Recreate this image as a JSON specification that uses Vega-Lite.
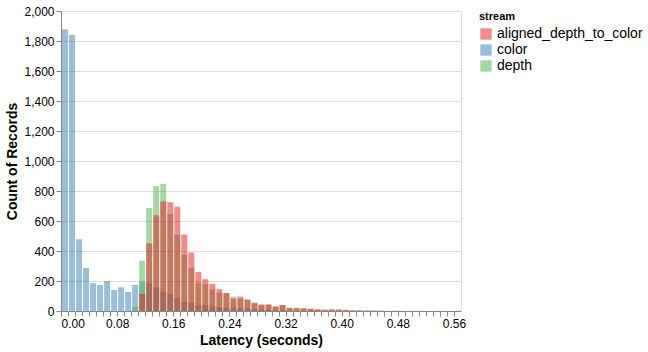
{
  "$schema": "https://vega.github.io/schema/vega-lite/v6.json",
  "width": 400,
  "height": 300,
  "config": {
    "font": "Liberation Sans",
    "axis": {"labelFontSize": 12, "titleFontSize": 14},
    "legend": {"labelFontSize": 14, "titleFontSize": 11, "symbolSize": 130}
  },
  "datasets": {
    "hist": [
      {"stream": "color", "bin_start": 0.00, "bin_end": 0.01, "count": 1878},
      {"stream": "color", "bin_start": 0.01, "bin_end": 0.02, "count": 1840},
      {"stream": "color", "bin_start": 0.02, "bin_end": 0.03, "count": 478},
      {"stream": "color", "bin_start": 0.03, "bin_end": 0.04, "count": 287},
      {"stream": "color", "bin_start": 0.04, "bin_end": 0.05, "count": 185},
      {"stream": "color", "bin_start": 0.05, "bin_end": 0.06, "count": 173},
      {"stream": "color", "bin_start": 0.06, "bin_end": 0.07, "count": 200},
      {"stream": "color", "bin_start": 0.07, "bin_end": 0.08, "count": 140},
      {"stream": "color", "bin_start": 0.08, "bin_end": 0.09, "count": 158},
      {"stream": "color", "bin_start": 0.09, "bin_end": 0.10, "count": 127},
      {"stream": "color", "bin_start": 0.10, "bin_end": 0.11, "count": 173},
      {"stream": "color", "bin_start": 0.11, "bin_end": 0.12, "count": 195},
      {"stream": "color", "bin_start": 0.12, "bin_end": 0.13, "count": 185},
      {"stream": "color", "bin_start": 0.13, "bin_end": 0.14, "count": 157},
      {"stream": "color", "bin_start": 0.14, "bin_end": 0.15, "count": 127},
      {"stream": "color", "bin_start": 0.15, "bin_end": 0.16, "count": 113},
      {"stream": "color", "bin_start": 0.16, "bin_end": 0.17, "count": 88},
      {"stream": "color", "bin_start": 0.17, "bin_end": 0.18, "count": 62},
      {"stream": "color", "bin_start": 0.18, "bin_end": 0.19, "count": 55},
      {"stream": "color", "bin_start": 0.19, "bin_end": 0.20, "count": 37},
      {"stream": "color", "bin_start": 0.20, "bin_end": 0.21, "count": 41},
      {"stream": "color", "bin_start": 0.21, "bin_end": 0.22, "count": 33},
      {"stream": "color", "bin_start": 0.22, "bin_end": 0.23, "count": 26},
      {"stream": "color", "bin_start": 0.23, "bin_end": 0.24, "count": 21},
      {"stream": "color", "bin_start": 0.24, "bin_end": 0.25, "count": 21},
      {"stream": "color", "bin_start": 0.25, "bin_end": 0.26, "count": 18},
      {"stream": "color", "bin_start": 0.26, "bin_end": 0.27, "count": 17},
      {"stream": "color", "bin_start": 0.27, "bin_end": 0.28, "count": 13},
      {"stream": "color", "bin_start": 0.28, "bin_end": 0.29, "count": 9},
      {"stream": "color", "bin_start": 0.29, "bin_end": 0.30, "count": 8},
      {"stream": "color", "bin_start": 0.30, "bin_end": 0.31, "count": 6},
      {"stream": "color", "bin_start": 0.31, "bin_end": 0.32, "count": 5},
      {"stream": "color", "bin_start": 0.32, "bin_end": 0.33, "count": 4},
      {"stream": "color", "bin_start": 0.33, "bin_end": 0.34, "count": 3},
      {"stream": "color", "bin_start": 0.34, "bin_end": 0.35, "count": 2},
      {"stream": "color", "bin_start": 0.35, "bin_end": 0.36, "count": 2},
      {"stream": "color", "bin_start": 0.36, "bin_end": 0.37, "count": 1},
      {"stream": "color", "bin_start": 0.37, "bin_end": 0.38, "count": 1},
      {"stream": "depth", "bin_start": 0.10, "bin_end": 0.11, "count": 29},
      {"stream": "depth", "bin_start": 0.11, "bin_end": 0.12, "count": 335},
      {"stream": "depth", "bin_start": 0.12, "bin_end": 0.13, "count": 687},
      {"stream": "depth", "bin_start": 0.13, "bin_end": 0.14, "count": 833},
      {"stream": "depth", "bin_start": 0.14, "bin_end": 0.15, "count": 847},
      {"stream": "depth", "bin_start": 0.15, "bin_end": 0.16, "count": 647},
      {"stream": "depth", "bin_start": 0.16, "bin_end": 0.17, "count": 507},
      {"stream": "depth", "bin_start": 0.17, "bin_end": 0.18, "count": 376},
      {"stream": "depth", "bin_start": 0.18, "bin_end": 0.19, "count": 289},
      {"stream": "depth", "bin_start": 0.19, "bin_end": 0.20, "count": 189},
      {"stream": "depth", "bin_start": 0.20, "bin_end": 0.21, "count": 180},
      {"stream": "depth", "bin_start": 0.21, "bin_end": 0.22, "count": 145},
      {"stream": "depth", "bin_start": 0.22, "bin_end": 0.23, "count": 123},
      {"stream": "depth", "bin_start": 0.23, "bin_end": 0.24, "count": 117},
      {"stream": "depth", "bin_start": 0.24, "bin_end": 0.25, "count": 96},
      {"stream": "depth", "bin_start": 0.25, "bin_end": 0.26, "count": 82},
      {"stream": "depth", "bin_start": 0.26, "bin_end": 0.27, "count": 78},
      {"stream": "depth", "bin_start": 0.27, "bin_end": 0.28, "count": 51},
      {"stream": "depth", "bin_start": 0.28, "bin_end": 0.29, "count": 40},
      {"stream": "depth", "bin_start": 0.29, "bin_end": 0.30, "count": 42},
      {"stream": "depth", "bin_start": 0.30, "bin_end": 0.31, "count": 27},
      {"stream": "depth", "bin_start": 0.31, "bin_end": 0.32, "count": 38},
      {"stream": "depth", "bin_start": 0.32, "bin_end": 0.33, "count": 18},
      {"stream": "depth", "bin_start": 0.33, "bin_end": 0.34, "count": 22},
      {"stream": "depth", "bin_start": 0.34, "bin_end": 0.35, "count": 20},
      {"stream": "depth", "bin_start": 0.35, "bin_end": 0.36, "count": 13},
      {"stream": "depth", "bin_start": 0.36, "bin_end": 0.37, "count": 9},
      {"stream": "depth", "bin_start": 0.37, "bin_end": 0.38, "count": 7},
      {"stream": "depth", "bin_start": 0.38, "bin_end": 0.39, "count": 9},
      {"stream": "depth", "bin_start": 0.39, "bin_end": 0.40, "count": 9},
      {"stream": "depth", "bin_start": 0.40, "bin_end": 0.41, "count": 8},
      {"stream": "depth", "bin_start": 0.41, "bin_end": 0.42, "count": 4},
      {"stream": "depth", "bin_start": 0.42, "bin_end": 0.43, "count": 4},
      {"stream": "depth", "bin_start": 0.43, "bin_end": 0.44, "count": 3},
      {"stream": "depth", "bin_start": 0.44, "bin_end": 0.45, "count": 2},
      {"stream": "depth", "bin_start": 0.45, "bin_end": 0.46, "count": 2},
      {"stream": "depth", "bin_start": 0.46, "bin_end": 0.47, "count": 1},
      {"stream": "depth", "bin_start": 0.47, "bin_end": 0.48, "count": 2},
      {"stream": "depth", "bin_start": 0.48, "bin_end": 0.49, "count": 1},
      {"stream": "depth", "bin_start": 0.50, "bin_end": 0.51, "count": 1},
      {"stream": "depth", "bin_start": 0.53, "bin_end": 0.54, "count": 1},
      {"stream": "depth", "bin_start": 0.56, "bin_end": 0.57, "count": 1},
      {"stream": "aligned_depth_to_color", "bin_start": 0.11, "bin_end": 0.12, "count": 113},
      {"stream": "aligned_depth_to_color", "bin_start": 0.12, "bin_end": 0.13, "count": 451},
      {"stream": "aligned_depth_to_color", "bin_start": 0.13, "bin_end": 0.14, "count": 638},
      {"stream": "aligned_depth_to_color", "bin_start": 0.14, "bin_end": 0.15, "count": 731},
      {"stream": "aligned_depth_to_color", "bin_start": 0.15, "bin_end": 0.16, "count": 725},
      {"stream": "aligned_depth_to_color", "bin_start": 0.16, "bin_end": 0.17, "count": 695},
      {"stream": "aligned_depth_to_color", "bin_start": 0.17, "bin_end": 0.18, "count": 510},
      {"stream": "aligned_depth_to_color", "bin_start": 0.18, "bin_end": 0.19, "count": 390},
      {"stream": "aligned_depth_to_color", "bin_start": 0.19, "bin_end": 0.20, "count": 261},
      {"stream": "aligned_depth_to_color", "bin_start": 0.20, "bin_end": 0.21, "count": 212},
      {"stream": "aligned_depth_to_color", "bin_start": 0.21, "bin_end": 0.22, "count": 181},
      {"stream": "aligned_depth_to_color", "bin_start": 0.22, "bin_end": 0.23, "count": 146},
      {"stream": "aligned_depth_to_color", "bin_start": 0.23, "bin_end": 0.24, "count": 120},
      {"stream": "aligned_depth_to_color", "bin_start": 0.24, "bin_end": 0.25, "count": 82},
      {"stream": "aligned_depth_to_color", "bin_start": 0.25, "bin_end": 0.26, "count": 96},
      {"stream": "aligned_depth_to_color", "bin_start": 0.26, "bin_end": 0.27, "count": 75},
      {"stream": "aligned_depth_to_color", "bin_start": 0.27, "bin_end": 0.28, "count": 56},
      {"stream": "aligned_depth_to_color", "bin_start": 0.28, "bin_end": 0.29, "count": 44},
      {"stream": "aligned_depth_to_color", "bin_start": 0.29, "bin_end": 0.30, "count": 44},
      {"stream": "aligned_depth_to_color", "bin_start": 0.30, "bin_end": 0.31, "count": 31},
      {"stream": "aligned_depth_to_color", "bin_start": 0.31, "bin_end": 0.32, "count": 40},
      {"stream": "aligned_depth_to_color", "bin_start": 0.32, "bin_end": 0.33, "count": 22},
      {"stream": "aligned_depth_to_color", "bin_start": 0.33, "bin_end": 0.34, "count": 18},
      {"stream": "aligned_depth_to_color", "bin_start": 0.34, "bin_end": 0.35, "count": 16},
      {"stream": "aligned_depth_to_color", "bin_start": 0.35, "bin_end": 0.36, "count": 16},
      {"stream": "aligned_depth_to_color", "bin_start": 0.36, "bin_end": 0.37, "count": 11},
      {"stream": "aligned_depth_to_color", "bin_start": 0.37, "bin_end": 0.38, "count": 9},
      {"stream": "aligned_depth_to_color", "bin_start": 0.38, "bin_end": 0.39, "count": 11},
      {"stream": "aligned_depth_to_color", "bin_start": 0.39, "bin_end": 0.40, "count": 10},
      {"stream": "aligned_depth_to_color", "bin_start": 0.40, "bin_end": 0.41, "count": 6},
      {"stream": "aligned_depth_to_color", "bin_start": 0.41, "bin_end": 0.42, "count": 5},
      {"stream": "aligned_depth_to_color", "bin_start": 0.42, "bin_end": 0.43, "count": 4},
      {"stream": "aligned_depth_to_color", "bin_start": 0.43, "bin_end": 0.44, "count": 3},
      {"stream": "aligned_depth_to_color", "bin_start": 0.44, "bin_end": 0.45, "count": 3},
      {"stream": "aligned_depth_to_color", "bin_start": 0.45, "bin_end": 0.46, "count": 2},
      {"stream": "aligned_depth_to_color", "bin_start": 0.46, "bin_end": 0.47, "count": 1},
      {"stream": "aligned_depth_to_color", "bin_start": 0.47, "bin_end": 0.48, "count": 1},
      {"stream": "aligned_depth_to_color", "bin_start": 0.48, "bin_end": 0.49, "count": 1},
      {"stream": "aligned_depth_to_color", "bin_start": 0.49, "bin_end": 0.50, "count": 1},
      {"stream": "aligned_depth_to_color", "bin_start": 0.50, "bin_end": 0.51, "count": 1},
      {"stream": "aligned_depth_to_color", "bin_start": 0.51, "bin_end": 0.52, "count": 1},
      {"stream": "aligned_depth_to_color", "bin_start": 0.53, "bin_end": 0.54, "count": 1},
      {"stream": "aligned_depth_to_color", "bin_start": 0.54, "bin_end": 0.55, "count": 1},
      {"stream": "aligned_depth_to_color", "bin_start": 0.56, "bin_end": 0.57, "count": 1}
    ]
  },
  "data": {"name": "hist"},
  "mark": {"type": "bar", "opacity": 0.5},
  "encoding": {
    "x": {
      "field": "bin_start",
      "type": "quantitative",
      "bin": {"binned": true, "step": 0.01},
      "title": "Latency (seconds)",
      "axis": {"tickCount": 57}
    },
    "x2": {"field": "bin_end"},
    "y": {
      "field": "count",
      "type": "quantitative",
      "stack": null,
      "title": "Count of Records"
    },
    "color": {
      "field": "stream",
      "type": "nominal",
      "title": "stream",
      "scale": {
        "domain": ["aligned_depth_to_color", "color", "depth"],
        "range": ["#e41a1c", "#377eb8", "#4daf4a"]
      }
    }
  }
}
